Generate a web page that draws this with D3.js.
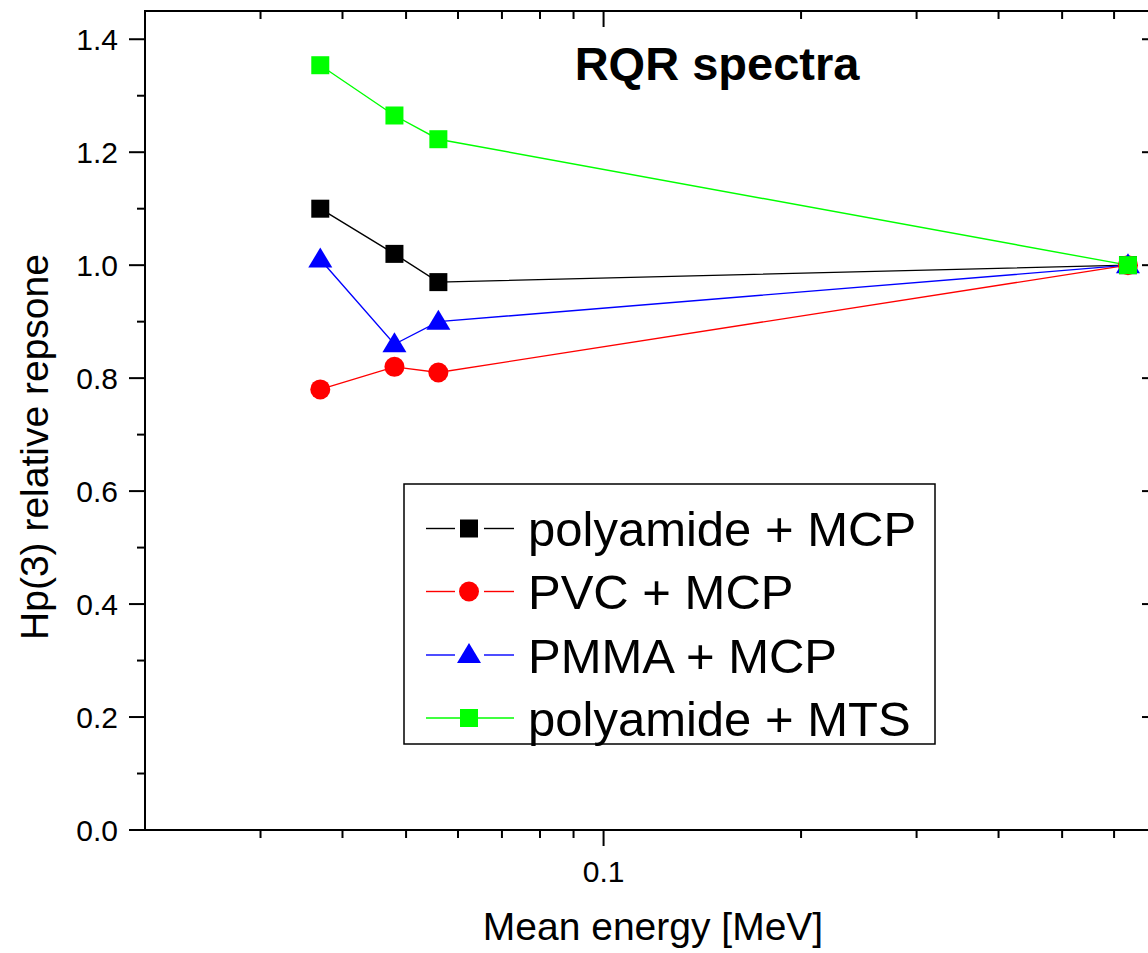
<!DOCTYPE html>
<html>
<head>
<meta charset="utf-8">
<script src="https://cdn.jsdelivr.net/npm/d3@7"></script>
<style>
  body { margin: 0; background: #fff; }
  svg { display: block; font-family: Arial, "Liberation Sans", sans-serif; }
</style>
</head>
<body>
<div id="chart"></div>
<script>
// mean energies [MeV]
var energy = [0.037, 0.048, 0.056, 0.63];

// relative response per detector combination
var polyamideMCP = [1.10, 1.02, 0.97, 1.00];
var pvcMCP       = [0.78, 0.82, 0.81, 1.00];
var pmmaMCP      = [1.01, 0.86, 0.90, 1.00];
var polyamideMTS = [1.354, 1.265, 1.223, 1.00];

var seriesNames = ["polyamide + MCP", "PVC + MCP", "PMMA + MCP", "polyamide + MTS"];
var seriesColors = ["#000000", "#ff0000", "#0000ff", "#00ff00"];
var seriesShapes = ["square", "circle", "triangle", "square"];
var seriesValues = [polyamideMCP, pvcMCP, pmmaMCP, polyamideMTS];

var yTicks = [0, 0.2, 0.4, 0.6, 0.8, 1.0, 1.2, 1.4];
var yMinor = [0.1, 0.3, 0.5, 0.7, 0.9, 1.1, 1.3];
var xMajor = [0.1];
var xMinor = [0.03, 0.04, 0.05, 0.06, 0.07, 0.08, 0.09, 0.2, 0.3, 0.4, 0.5, 0.6];

var w = 1148, h = 953;
var margin = { left: 145, right: 1158, top: 11, bottom: 830 };

var svg = d3.select("#chart").append("svg")
  .attr("width", w).attr("height", h);

var x = d3.scaleLog().domain([0.02, 0.7]).range([margin.left, margin.right]);
var y = d3.scaleLinear().domain([0, 1.45]).range([margin.bottom, margin.top]);

// frame
svg.append("rect")
  .attr("x", margin.left).attr("y", margin.top)
  .attr("width", margin.right - margin.left).attr("height", margin.bottom - margin.top)
  .attr("fill", "none").attr("stroke", "#000").attr("stroke-width", 2);

function tickLines(sel, vals, fn) {
  sel.selectAll(null).data(vals).enter().append("line")
    .each(function(d) { var c = fn(d); d3.select(this).attr("x1", c[0]).attr("y1", c[1]).attr("x2", c[2]).attr("y2", c[3]); })
    .attr("stroke", "#000").attr("stroke-width", 2);
}

var axes = svg.append("g");
var L = margin.left, R = margin.right, T = margin.top, B = margin.bottom;
// bottom ticks (outward)
tickLines(axes, xMajor, function(d) { return [x(d), B, x(d), B + 16]; });
tickLines(axes, xMinor, function(d) { return [x(d), B, x(d), B + 8]; });
// top ticks (inward)
tickLines(axes, xMajor, function(d) { return [x(d), T, x(d), T + 16]; });
tickLines(axes, xMinor, function(d) { return [x(d), T, x(d), T + 8]; });
// left ticks (outward)
tickLines(axes, yTicks, function(d) { return [L - 16, y(d), L, y(d)]; });
tickLines(axes, yMinor, function(d) { return [L - 8, y(d), L, y(d)]; });
// right ticks (inward)
tickLines(axes, yTicks, function(d) { return [R - 16, y(d), R, y(d)]; });
tickLines(axes, yMinor, function(d) { return [R - 8, y(d), R, y(d)]; });

// tick labels
axes.selectAll(".ylab").data(yTicks).enter().append("text")
  .attr("x", 118).attr("y", function(d) { return y(d); })
  .attr("dy", "0.36em")
  .attr("text-anchor", "end")
  .style("font-size", "30px")
  .text(function(d) { return d3.format(".1f")(d); });

axes.selectAll(".xlab").data(xMajor).enter().append("text")
  .attr("x", function(d) { return x(d); }).attr("y", 882)
  .attr("text-anchor", "middle")
  .style("font-size", "30px")
  .text(function(d) { return d; });

// axis titles
svg.append("text")
  .attr("x", 653).attr("y", 940)
  .attr("text-anchor", "middle")
  .style("font-size", "39px")
  .text("Mean energy [MeV]");

svg.append("text")
  .attr("transform", "translate(48,447) rotate(-90)")
  .attr("text-anchor", "middle")
  .style("font-size", "39px")
  .text("Hp(3) relative repsone");

svg.append("text")
  .attr("x", 717).attr("y", 80)
  .attr("text-anchor", "middle")
  .style("font-size", "47px")
  .style("font-weight", "bold")
  .text("RQR spectra");

function drawMarker(g, shape, color, cx, cy) {
  if (shape == "square") {
    g.append("rect").attr("x", cx - 9).attr("y", cy - 9).attr("width", 18).attr("height", 18).attr("fill", color);
  } else if (shape == "circle") {
    g.append("circle").attr("cx", cx).attr("cy", cy).attr("r", 10).attr("fill", color);
  } else {
    g.append("path")
      .attr("d", "M" + cx + "," + (cy - 12) + "L" + (cx + 12) + "," + (cy + 8) + "L" + (cx - 12) + "," + (cy + 8) + "Z")
      .attr("fill", color);
  }
}

var line = d3.line()
  .x(function(d) { return x(d[0]); })
  .y(function(d) { return y(d[1]); });

var plot = svg.append("g");
seriesValues.forEach(function(vals, i) {
  var pts = energy.map(function(e, k) { return [e, vals[k]]; });
  plot.append("path")
    .attr("d", line(pts))
    .attr("fill", "none")
    .attr("stroke", seriesColors[i])
    .attr("stroke-width", 1.4);
});
seriesValues.forEach(function(vals, i) {
  var g = plot.append("g");
  energy.forEach(function(e, k) {
    drawMarker(g, seriesShapes[i], seriesColors[i], x(e), y(vals[k]));
  });
});

// legend
var lg = svg.append("g");
lg.append("rect")
  .attr("x", 404).attr("y", 484).attr("width", 531).attr("height", 260)
  .attr("fill", "#fff").attr("stroke", "#000").attr("stroke-width", 1.5);

var rowY = [528.5, 591.5, 655, 718];
seriesNames.forEach(function(name, i) {
  var cy = rowY[i];
  if (i < 3) {
    lg.append("line").attr("x1", 426).attr("x2", 455).attr("y1", cy).attr("y2", cy)
      .attr("stroke", seriesColors[i]).attr("stroke-width", 1.4);
    lg.append("line").attr("x1", 484).attr("x2", 514).attr("y1", cy).attr("y2", cy)
      .attr("stroke", seriesColors[i]).attr("stroke-width", 1.4);
  } else {
    lg.append("line").attr("x1", 426).attr("x2", 514).attr("y1", cy).attr("y2", cy)
      .attr("stroke", seriesColors[i]).attr("stroke-width", 1.4);
  }
  drawMarker(lg, seriesShapes[i], seriesColors[i], 469, cy);
  lg.append("text")
    .attr("x", 528).attr("y", cy).attr("dy", "0.36em")
    .style("font-size", "49px")
    .text(name);
});
</script>
</body>
</html>
